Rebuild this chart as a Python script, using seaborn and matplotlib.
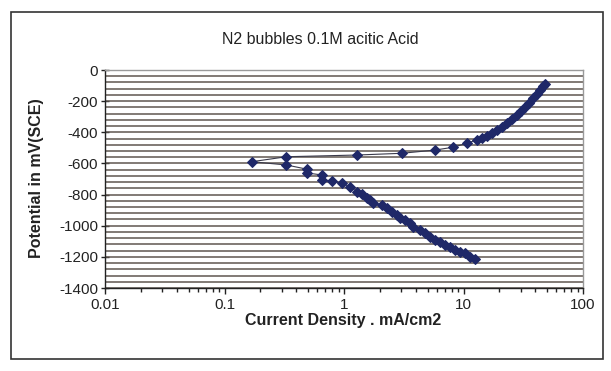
import numpy as np
import pandas as pd
import matplotlib
matplotlib.use("Agg")
import matplotlib.pyplot as plt
import seaborn as sns
from matplotlib.patches import Rectangle
from matplotlib.ticker import LogLocator, FixedLocator, NullFormatter

current_density = [12.5, 11.3, 10.3, 9.35, 8.5, 7.7, 7.0, 6.36, 5.78, 5.25,
                   4.76, 4.32, 3.8, 3.56, 3.24, 2.94, 2.76, 2.51, 2.28, 2.07,
                   1.76, 1.65, 1.55, 1.41, 1.28, 1.12, 0.955, 0.79, 0.65, 0.65,
                   0.49, 0.49, 0.33, 0.169, 0.33, 1.28, 3.04, 5.78, 8.2, 10.6,
                   12.9, 14.2, 15.6, 17.3, 19.0, 21.0, 23.0, 25.4, 27.9, 30.3,
                   32.7, 35.5, 38.4, 41.0, 43.6, 46.0, 48.1]
potential = [-1215, -1199, -1177, -1166, -1156, -1134, -1124, -1102, -1091, -1070,
             -1049, -1027, -1006, -984, -963, -952, -931, -909, -888, -867,
             -856, -835, -824, -796, -781, -749, -728, -711, -706, -674,
             -661, -637, -610, -589, -557, -546, -535, -514, -496, -471,
             -449, -437, -424, -405, -385, -364, -342, -316, -289, -262,
             -236, -209, -182, -155, -128, -104, -88]

title = "N2 bubbles 0.1M acitic Acid"
xlabel = "Current Density . mA/cm2"
ylabel = "Potential in mV(SCE)"
xtick_vals = [0.01, 0.1, 1, 10, 100]
xtick_labels = ["0.01", "0.1", "1", "10", "100"]
ytick_vals = [0, -200, -400, -600, -800, -1000, -1200, -1400]

df = pd.DataFrame({"cd": current_density, "pot": potential})

sns.set_theme(style="white")
plt.rcParams["font.family"] = ["Liberation Sans", "DejaVu Sans"]

fig = plt.figure(figsize=(6.11, 3.71), dpi=100)
fig.patch.set_facecolor("white")
ax = fig.add_axes([105 / 611, 1 - 288 / 371, (583 - 105) / 611, (288 - 70) / 371])
ax.set_facecolor("white")

# outer chart border
fig.add_artist(Rectangle((11 / 611, 1 - 359 / 371), (603 - 11) / 611, (359 - 12) / 371,
                         transform=fig.transFigure, fill=False, edgecolor="#333333",
                         linewidth=1.2))

# grid lines every 40 mV
for g in np.arange(0, -1401, -40):
    ax.axhline(g, color="#5f5650", linewidth=1.1, zorder=1)

sns.lineplot(data=df, x="cd", y="pot", sort=False, estimator=None, ax=ax,
             color="#3a3a4a", linewidth=0.8, marker="D", markersize=5,
             markerfacecolor="#1f2868", markeredgecolor="#1f2868", zorder=3)

ax.set_xscale("log")
ax.set_xlim(0.01, 100)
ax.set_ylim(-1400, 0)
ax.xaxis.set_major_locator(FixedLocator(xtick_vals))
ax.set_xticks(xtick_vals)
ax.set_xticklabels(xtick_labels)
ax.xaxis.set_minor_locator(LogLocator(base=10, subs=np.arange(2, 10)))
ax.xaxis.set_minor_formatter(NullFormatter())
ax.set_yticks(ytick_vals)
ax.set_yticklabels([str(v) for v in ytick_vals])

ax.tick_params(axis="x", which="major", direction="out", length=4, width=1,
               color="#222222", labelsize=11, pad=3, bottom=True)
ax.tick_params(axis="x", which="minor", direction="out", length=3, width=1,
               color="#222222", bottom=True)
ax.tick_params(axis="y", which="major", direction="inout", length=6, width=1,
               color="#222222", labelsize=11, pad=2, left=True)
for lab in ax.get_xticklabels() + ax.get_yticklabels():
    lab.set_color("#222222")

for side in ["left", "bottom"]:
    ax.spines[side].set_color("#222222")
    ax.spines[side].set_linewidth(1.0)
for side in ["top", "right"]:
    ax.spines[side].set_visible(True)
    ax.spines[side].set_color("#9a9a9a")
    ax.spines[side].set_linewidth(1.0)

ax.set_xlabel("")
ax.set_ylabel("")
fig.text(320 / 611, 1 - 40 / 371, title, ha="center", va="center",
         fontsize=11.5, color="#222222")
fig.text(343 / 611, 1 - 320 / 371, xlabel, ha="center", va="center",
         fontsize=11.5, fontweight="bold", color="#222222")
fig.text(37 / 611, 1 - 178 / 371, ylabel, ha="center", va="center", rotation=90,
         fontsize=11.5, fontweight="bold", color="#222222")

fig.savefig("out.png", dpi=100, facecolor="white")
